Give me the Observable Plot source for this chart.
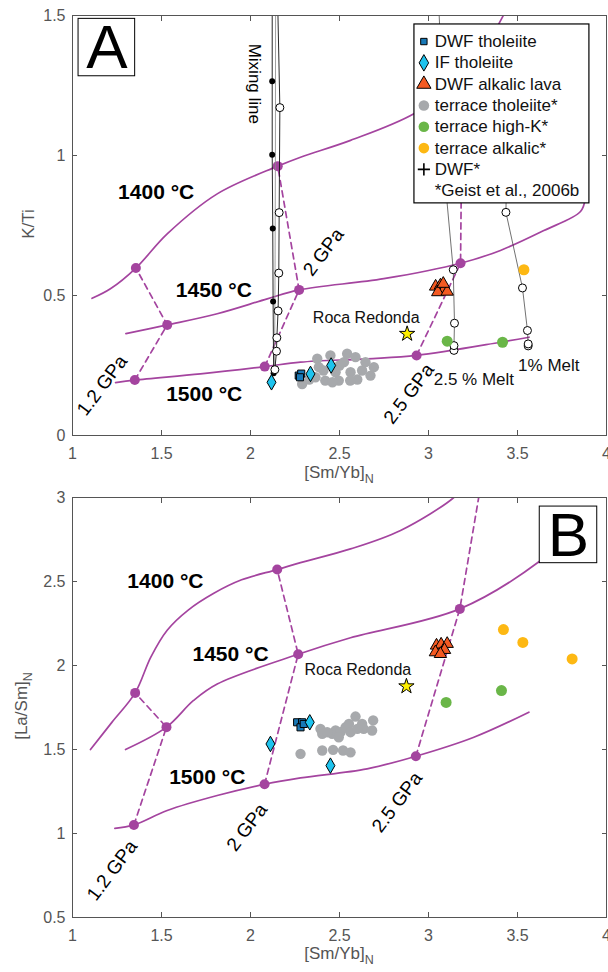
<!DOCTYPE html>
<html><head><meta charset="utf-8">
<script src="https://cdn.jsdelivr.net/npm/d3@7"></script>
<script src="https://cdn.jsdelivr.net/npm/@observablehq/plot@0.6"></script>
<style>
body{margin:0;background:#fff;}
#chart{width:608px;}
#chart svg{display:block;}
</style></head><body><div id="chart"></div>
<script>
// ---------- ticks ----------
const xTicks = [1, 1.5, 2, 2.5, 3, 3.5, 4];
const yTicksA = [0, 0.5, 1, 1.5];
const yTicksB = [0.5, 1, 1.5, 2, 2.5, 3];

// ---------- Panel A: model curves ([Sm/Yb]N, K/Ti) ----------
const A_1400 = [[1.11,0.49],[1.213,0.524],[1.356,0.598],[1.532,0.72],[1.813,0.863],[2.153,0.962],[2.281,0.994],[2.562,1.054],[2.918,1.149],[3.2,1.28],[3.42,1.5],[3.46,1.56]];
const A_1450 = [[1.30,0.364],[1.532,0.395],[1.813,0.435],[2.094,0.488],[2.273,0.52],[2.749,0.56],[3.18,0.615],[3.404,0.661],[3.648,0.732],[3.854,0.80],[3.88,0.845]];
const A_1500 = [[1.242,0.189],[1.35,0.198],[1.719,0.22],[2.08,0.246],[2.281,0.262],[2.655,0.274],[2.933,0.286],[3.404,0.333],[3.565,0.351]];
const A_gpa12 = [[1.35,0.198],[1.532,0.395],[1.356,0.598]];
const A_gpa20 = [[2.08,0.246],[2.273,0.52],[2.153,0.962]];
const A_gpa25 = [[2.933,0.286],[3.18,0.615],[3.19,1.26]];
const A_nodes = [[1.356,0.598],[2.153,0.962],[1.532,0.395],[2.273,0.52],[3.18,0.615],[1.35,0.198],[2.08,0.246],[2.933,0.286]];

// mixing / melting lines
const mixFilledLine = [[2.13,0.222],[2.127,0.479],[2.125,0.739],[2.122,1.003],[2.122,1.265],[2.122,1.6]];
const mixFilledPts = [[2.13,0.222],[2.127,0.479],[2.125,0.739],[2.122,1.003],[2.122,1.265]];
const mixGrayLine = [[2.135,0.215],[2.138,0.6],[2.14,1.0],[2.141,1.6]];
const mixOpenLine = [[2.137,0.235],[2.146,0.301],[2.148,0.349],[2.155,0.445],[2.159,0.58],[2.161,0.796],[2.165,1.171],[2.151,1.6]];
const mixOpenPts = [[2.137,0.235],[2.146,0.301],[2.148,0.349],[2.155,0.445],[2.159,0.58],[2.161,0.796],[2.165,1.171]];
const melt25Line = [[3.143,0.304],[3.143,0.321],[3.146,0.401],[3.139,0.592],[3.105,0.827],[3.06,1.5],[3.05,1.6]];
const melt25Pts = [[3.143,0.304],[3.143,0.321],[3.146,0.401],[3.139,0.592]];
const melt1Line = [[3.56,0.32],[3.56,0.327],[3.556,0.375],[3.528,0.527],[3.435,0.797],[3.44,1.0]];
const melt1Pts = [[3.56,0.32],[3.56,0.327],[3.556,0.375],[3.528,0.527],[3.435,0.797]];

// samples, panel A
const A_dwfThol = [[2.271,0.214],[2.285,0.221],[2.278,0.208]];
const A_ifThol = [[2.118,0.19],[2.337,0.22],[2.453,0.25]];
const A_dwfAlk = [[3.04,0.532],[3.067,0.536],[3.086,0.52],[3.052,0.512],[3.105,0.514],[3.083,0.542]];
const A_terThol = [[2.375,0.274],[2.384,0.244],[2.365,0.208],[2.29,0.184],[2.42,0.196],[2.449,0.286],[2.478,0.226],[2.496,0.196],[2.525,0.262],[2.543,0.292],[2.562,0.226],[2.59,0.28],[2.6,0.2],[2.627,0.232],[2.646,0.262],[2.674,0.214],[2.693,0.244],[2.56,0.196],[2.46,0.19],[2.41,0.232],[2.5,0.25],[2.33,0.2]];
const A_terHighK = [[3.105,0.337],[3.416,0.333]];
const A_terAlk = [[3.536,0.592]];
const A_roca = [[2.88,0.363]];

// ---------- Panel B: model curves ([Sm/Yb]N, [La/Sm]N) ----------
const B_1400 = [[1.101,1.5],[1.22,1.66],[1.352,1.837],[1.44,2.05],[1.532,2.21],[1.65,2.33],[1.794,2.43],[1.95,2.51],[2.15,2.571],[2.281,2.612],[2.562,2.694],[2.843,2.804],[3.142,3.0],[3.18,3.05]];
const B_1450 = [[1.298,1.5],[1.528,1.633],[1.68,1.792],[1.813,1.890],[2.268,2.067],[2.562,2.165],[3.176,2.337],[3.63,2.625],[3.88,2.87]];
const B_1500 = [[1.238,1.031],[1.345,1.051],[1.532,1.137],[1.813,1.226],[2.079,1.293],[2.281,1.331],[2.655,1.385],[2.929,1.46],[3.255,1.573],[3.564,1.722]];
const B_gpa12 = [[1.345,1.051],[1.528,1.633],[1.352,1.837]];
const B_gpa20 = [[2.079,1.293],[2.268,2.067],[2.15,2.571]];
const B_gpa25 = [[2.929,1.46],[3.176,2.337],[3.29,3.05]];
const B_nodes = [[1.352,1.837],[2.15,2.571],[1.528,1.633],[2.268,2.067],[3.176,2.337],[1.345,1.051],[2.079,1.293],[2.929,1.46]];

const B_dwfThol = [[2.262,1.662],[2.29,1.662],[2.281,1.632],[2.299,1.652]];
const B_ifThol = [[2.333,1.662],[2.112,1.533],[2.449,1.404]];
const B_dwfAlk = [[3.045,2.119],[3.071,2.125],[3.105,2.129],[3.039,2.079],[3.09,2.093],[3.067,2.069]];
const B_terThol = [[2.281,1.474],[2.403,1.494],[2.464,1.498],[2.52,1.494],[2.562,1.483],[2.393,1.623],[2.403,1.593],[2.459,1.593],[2.478,1.613],[2.506,1.603],[2.534,1.632],[2.553,1.652],[2.59,1.696],[2.627,1.652],[2.636,1.623],[2.689,1.673],[2.683,1.613],[2.562,1.603],[2.6,1.623],[2.496,1.573],[2.431,1.603]];
const B_terHighK = [[3.099,1.78],[3.41,1.851]];
const B_terAlk = [[3.421,2.214],[3.53,2.137],[3.807,2.039]];
const B_roca = [[2.876,1.876]];

// ---------- text ----------
const tempNames = ["1400 °C", "1450 °C", "1500 °C"];
const gpaNames = ["1.2 GPa", "2 GPa", "2.5 GPa"];
const legendLabels = ["DWF tholeiite","IF tholeiite","DWF alkalic lava","terrace tholeiite*","terrace high-K*","terrace alkalic*","DWF*","*Geist et al., 2006b"];

// annotation anchors (data coords)
const A_tempPos = [[1.47,0.869],[1.794,0.52],[1.74,0.149]];
const A_gpaPos = [[1.167,0.179],[2.41,0.655],[2.89,0.149]];
const B_tempPos = [[1.522,2.5],[1.888,2.069],[1.757,1.335]];
const B_gpaPos = [[1.223,0.78],[1.981,1.037],[2.824,1.186]];

// ---------- styles ----------
const FONT = "'Liberation Sans', Arial, Helvetica, sans-serif";
const PURPLE = "#a4449f";
const AX = "#555";
const BLUE = "#1878b6", CYAN = "#1ec3ee", RED = "#f45a22", GRAY = "#a7a9ac", GREEN = "#6ab648", GOLD = "#fdb813", STAR = "#fff000";
const X = d => d[0], Y = d => d[1];

function axes(yt) {
  return [
    Plot.axisX({anchor: "bottom", ticks: xTicks, tickSize: -5, tickPadding: 17, tickFormat: d => String(d), label: null, color: AX, fontSize: 16}),
    Plot.axisX({anchor: "top", ticks: xTicks, tickSize: -5, label: null, stroke: AX, fill: "none"}),
    Plot.axisY({anchor: "left", ticks: yt, tickSize: -5, tickPadding: 12, tickFormat: d => String(d), label: null, color: AX, fontSize: 16}),
    Plot.axisY({anchor: "right", ticks: yt, tickSize: -5, label: null, stroke: AX, fill: "none"}),
    Plot.frame({stroke: AX, strokeWidth: 1})
  ];
}

function model(c1400, c1450, c1500, g12, g20, g25, nodes) {
  const line = {x: X, y: Y, stroke: PURPLE, strokeWidth: 1.7, curve: "catmull-rom", clip: true};
  const dash = {x: X, y: Y, stroke: PURPLE, strokeWidth: 1.7, strokeDasharray: "6,4.5", clip: true};
  return [
    Plot.line(c1400, line), Plot.line(c1450, line), Plot.line(c1500, line),
    Plot.line(g12, dash), Plot.line(g20, dash), Plot.line(g25, dash),
    Plot.dot(nodes, {x: X, y: Y, r: 5, fill: PURPLE, stroke: "none"})
  ];
}

function samples(thol, ifT, alk, terT, terK, terA, roca) {
  return [
    Plot.dot(terT, {x: X, y: Y, r: 5.2, fill: GRAY, stroke: "none"}),
    Plot.dot(terK, {x: X, y: Y, r: 5.5, fill: GREEN, stroke: "none"}),
    Plot.dot(terA, {x: X, y: Y, r: 5.5, fill: GOLD, stroke: "none"}),
    Plot.dot(alk, {x: X, y: Y, symbol: "triangle", r: 4.6, fill: RED, stroke: "black", strokeWidth: 1}),
    Plot.dot(thol, {x: X, y: Y, symbol: "square", r: 4, fill: BLUE, stroke: "black", strokeWidth: 1}),
    Plot.dot(ifT, {x: X, y: Y, symbol: "diamond", r: 4.7, fill: CYAN, stroke: "black", strokeWidth: 1}),
    Plot.dot(roca, {x: X, y: Y, symbol: "star", r: 4.8, fill: STAR, stroke: "black", strokeWidth: 1})
  ];
}

function labels(tempPos, gpaPos) {
  return [
    Plot.text(tempNames, {x: (d, i) => tempPos[i][0], y: (d, i) => tempPos[i][1], text: d => d, fontSize: 21, fontWeight: "bold", fill: "black", textAnchor: "middle", lineAnchor: "middle"}),
    Plot.text(gpaNames, {x: (d, i) => gpaPos[i][0], y: (d, i) => gpaPos[i][1], text: d => d, fontSize: 19, fill: "black", rotate: -53, textAnchor: "middle", lineAnchor: "middle"})
  ];
}

function panelBox(letter, x1, x2, y1, y2) {
  return [
    Plot.rect([letter], {x1: () => x1, x2: () => x2, y1: () => y1, y2: () => y2, fill: "white", stroke: "black", strokeWidth: 1}),
    Plot.text([letter], {x: () => (x1 + x2) / 2, y: () => (y1 + y2) / 2, text: d => d, fontSize: 62, fill: "black", textAnchor: "middle", lineAnchor: "middle", dy: 1})
  ];
}

// legend (panel A, data coords)
const legX1 = 2.921, legX2 = 3.904, legY1 = 0.829, legY2 = 1.468;
const rowY = i => 1.407 - i * 0.0761;
const legendStyles = [
  {symbol: "square", fill: BLUE, stroke: "black", r: 3.6},
  {symbol: "diamond", fill: CYAN, stroke: "black", r: 5},
  {symbol: "triangle", fill: RED, stroke: "black", r: 5.3},
  {symbol: "circle", fill: GRAY, stroke: "none", r: 5.3},
  {symbol: "circle", fill: GREEN, stroke: "none", r: 5.3},
  {symbol: "circle", fill: GOLD, stroke: "none", r: 5.3},
  {symbol: "plus", fill: "none", stroke: "black", r: 4, strokeWidth: 1.6},
  null
];
function legend() {
  const m = [Plot.rect([0], {x1: () => legX1, x2: () => legX2, y1: () => legY1, y2: () => legY2, fill: "white", stroke: "black", strokeWidth: 1.2})];
  legendLabels.forEach((lab, i) => {
    const s = legendStyles[i];
    if (s) m.push(Plot.dot([lab], {x: () => 2.974, y: () => rowY(i), symbol: s.symbol, r: s.r, fill: s.fill, stroke: s.stroke, strokeWidth: s.strokeWidth || 1}));
  });
  m.push(Plot.text(legendLabels, {x: () => 3.035, y: (d, i) => rowY(i), text: d => d, fontSize: 17, fill: "#111", textAnchor: "start", lineAnchor: "middle"}));
  return m;
}

const plotA = Plot.plot({
  width: 608, height: 480, marginTop: 15, marginBottom: 45, marginLeft: 72, marginRight: 2,
  x: {domain: [1, 4]}, y: {domain: [0, 1.5]},
  style: {fontFamily: FONT, background: "white", overflow: "visible"},
  marks: [
    ...model(A_1400, A_1450, A_1500, A_gpa12, A_gpa20, A_gpa25, A_nodes),
    Plot.line(mixGrayLine, {x: X, y: Y, stroke: "#888", strokeWidth: 0.8, clip: true}),
    Plot.line(mixFilledLine, {x: X, y: Y, stroke: "#111", strokeWidth: 0.9, clip: true}),
    Plot.line(mixOpenLine, {x: X, y: Y, stroke: "#111", strokeWidth: 0.9, clip: true}),
    Plot.line(melt25Line, {x: X, y: Y, stroke: "#333", strokeWidth: 0.7, clip: true}),
    Plot.line(melt1Line, {x: X, y: Y, stroke: "#333", strokeWidth: 0.7, clip: true}),
    Plot.dot(mixFilledPts, {x: X, y: Y, r: 3, fill: "black", stroke: "none"}),
    Plot.dot(mixOpenPts.concat(melt25Pts, melt1Pts), {x: X, y: Y, r: 4, fill: "white", stroke: "black", strokeWidth: 1}),
    ...samples(A_dwfThol, A_ifThol, A_dwfAlk, A_terThol, A_terHighK, A_terAlk, A_roca),
    ...labels(A_tempPos, A_gpaPos),
    Plot.text(["Mixing line"], {x: () => 2.02, y: () => 1.256, text: d => d, rotate: 90, fontSize: 17, fill: "black", textAnchor: "middle", lineAnchor: "middle"}),
    Plot.text(["Roca Redonda"], {x: () => 2.65, y: () => 0.42, text: d => d, fontSize: 16, fill: "#111", textAnchor: "middle", lineAnchor: "middle"}),
    Plot.text(["2.5 % Melt"], {x: () => 3.255, y: () => 0.2, text: d => d, fontSize: 17, fill: "#111", textAnchor: "middle", lineAnchor: "middle"}),
    Plot.text(["1% Melt"], {x: () => 3.676, y: () => 0.25, text: d => d, fontSize: 17, fill: "#111", textAnchor: "middle", lineAnchor: "middle"}),
    ...legend(),
    ...panelBox("A", 1.034, 1.352, 1.283, 1.488),
    ...axes(yTicksA)
  ]
});

const plotB = Plot.plot({
  width: 608, height: 492, marginTop: 17, marginBottom: 55, marginLeft: 72, marginRight: 2,
  x: {domain: [1, 4]}, y: {domain: [0.5, 3]},
  style: {fontFamily: FONT, background: "white", overflow: "visible"},
  marks: [
    ...model(B_1400, B_1450, B_1500, B_gpa12, B_gpa20, B_gpa25, B_nodes),
    ...samples(B_dwfThol, B_ifThol, B_dwfAlk, B_terThol, B_terHighK, B_terAlk, B_roca),
    ...labels(B_tempPos, B_gpaPos),
    Plot.text(["Roca Redonda"], {x: () => 2.603, y: () => 1.974, text: d => d, fontSize: 16, fill: "#111", textAnchor: "middle", lineAnchor: "middle"}),
    ...panelBox("B", 3.625, 3.948, 2.609, 2.946),
    ...axes(yTicksB)
  ]
});

// axis titles with subscripts
function xTitle(svg, baseline) {
  const t = d3.select(svg).append("text").attr("x", 339).attr("y", baseline)
    .attr("text-anchor", "middle").attr("fill", AX).attr("font-size", 17).attr("font-family", FONT);
  t.append("tspan").text("[Sm/Yb]");
  t.append("tspan").attr("font-size", 12.5).attr("dy", 5).text("N");
}
function yTitle(svg, x, y, main, sub) {
  const t = d3.select(svg).append("text").attr("transform", `translate(${x},${y}) rotate(-90)`)
    .attr("text-anchor", "middle").attr("fill", AX).attr("font-size", 17).attr("font-family", FONT);
  t.append("tspan").text(main);
  if (sub) t.append("tspan").attr("font-size", 12.5).attr("dy", 5).text(sub);
}
xTitle(plotA, 478);
yTitle(plotA, 34, 224, "K/Ti");
xTitle(plotB, 479);
yTitle(plotB, 27, 226, "[La/Sm]", "N");

document.getElementById("chart").append(plotA, plotB);
</script>
</body></html>
